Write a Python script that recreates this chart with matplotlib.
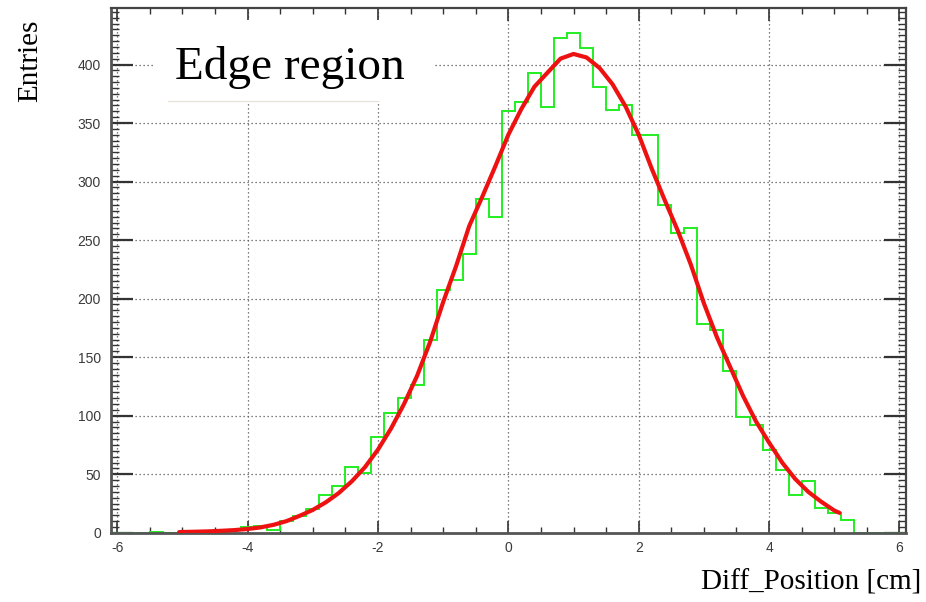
import numpy as np
import matplotlib
matplotlib.use("Agg")
import matplotlib.pyplot as plt
from matplotlib.patches import Rectangle
from matplotlib.ticker import MultipleLocator

plt.rcParams['axes.unicode_minus'] = False

# ---- data ----
x_min, x_max, n_bins = -6.1, 6.1, 61
counts = [0, 0, 0, 1, 0, 0, 0, 1, 1, 2,
          5, 6, 2, 10, 14, 20, 32, 40, 56, 51,
          82, 102, 115, 126, 165, 207, 216, 238, 285, 270,
          360, 368, 393, 364, 423, 427, 414, 381, 361, 365,
          340, 340, 280, 256, 260, 178, 173, 138, 99, 92,
          71, 54, 32, 44, 21, 17, 11, 0, 0, 0, 0]

fit_x = [-5.05, -4.8, -4.6, -4.4, -4.2, -4.0, -3.8, -3.6, -3.4, -3.2,
         -3.0, -2.8, -2.6, -2.4, -2.2, -2.0, -1.8, -1.6, -1.4, -1.2,
         -1.0, -0.8, -0.6, -0.4, -0.2, 0.0, 0.2, 0.4, 0.6, 0.8,
         1.0, 1.2, 1.4, 1.6, 1.8, 2.0, 2.2, 2.4, 2.6, 2.8,
         3.0, 3.2, 3.4, 3.6, 3.8, 4.0, 4.2, 4.4, 4.6, 4.8, 5.0, 5.08]
fit_y = [0.6, 0.9, 1.2, 1.7, 2.3, 3.2, 4.6, 6.8, 10, 14.5,
         19.5, 26, 34, 44, 56, 71, 89, 110, 134, 163,
         197, 228, 262, 287, 313, 340, 362, 381, 393, 405,
         409, 406, 397, 383, 364, 340, 311, 284, 258, 229,
         196, 167, 142, 117, 95, 77, 60, 46, 35, 26.5, 19, 17]

x_ticks = [-6, -4, -2, 0, 2, 4, 6]
y_ticks = [0, 50, 100, 150, 200, 250, 300, 350, 400]
y_top = 448

title_text = "Edge region"
x_label = "Diff_Position [cm]"
y_label = "Entries"

# ---- figure ----
fig = plt.figure(figsize=(9.26, 6.02), dpi=100)
ax = fig.add_axes([0.1195, 0.115, 0.8589, 0.8712])
ax.set_axisbelow(True)

edges = np.linspace(x_min, x_max, n_bins + 1)
ax.stairs(counts, edges, color='#22ee22', lw=1.4, zorder=2)
ax.plot(fit_x, fit_y, color='#ee1111', lw=3.0, solid_capstyle='round',
        solid_joinstyle='round', zorder=3)

ax.set_xlim(x_min, x_max)
ax.set_ylim(0, y_top)
ax.set_xticks(x_ticks)
ax.set_yticks(y_ticks)
ax.xaxis.set_minor_locator(MultipleLocator(0.5))
ax.yaxis.set_minor_locator(MultipleLocator(5))

ax.grid(True, which='major', color='#555555', lw=0.9, linestyle=(0, (1, 2.2)))

ax.tick_params(axis='both', which='both', direction='in', top=True, right=True,
               colors='#333333', labelcolor='#3a3a3a')
ax.tick_params(axis='x', which='major', length=9, width=1.2, pad=6)
ax.tick_params(axis='x', which='minor', length=4.5, width=1.0)
ax.tick_params(axis='y', which='major', length=16, width=1.6, pad=7)
ax.tick_params(axis='y', which='minor', length=6, width=1.0)
for lab in ax.get_xticklabels() + ax.get_yticklabels():
    lab.set_fontfamily('Liberation Sans')
    lab.set_fontsize(10)

for side in ['bottom', 'left']:
    ax.spines[side].set_linewidth(2.0)
    ax.spines[side].set_color('#555555')
for side in ['top', 'right']:
    ax.spines[side].set_linewidth(1.6)
    ax.spines[side].set_color('#444444')

# white label box covering the grid
ax.add_patch(Rectangle((-5.45, 369), 4.29, 69, facecolor='white',
                       edgecolor='none', zorder=1))
ax.plot([-5.22, -2.0], [369, 369], color='#e8e0d8', lw=0.8, zorder=1.1)
ax.text(-5.11, 388, title_text, fontfamily='Liberation Serif', fontsize=34,
        va='baseline', ha='left', color='black', zorder=4)

fig.text(0.0324, 0.967, y_label, rotation=90, ha='center', va='top',
         fontfamily='Liberation Serif', fontsize=21)
fig.text(0.9946, 0.0332, x_label, ha='right', va='center',
         fontfamily='Liberation Serif', fontsize=21)

fig.savefig('out.png', dpi=100)
